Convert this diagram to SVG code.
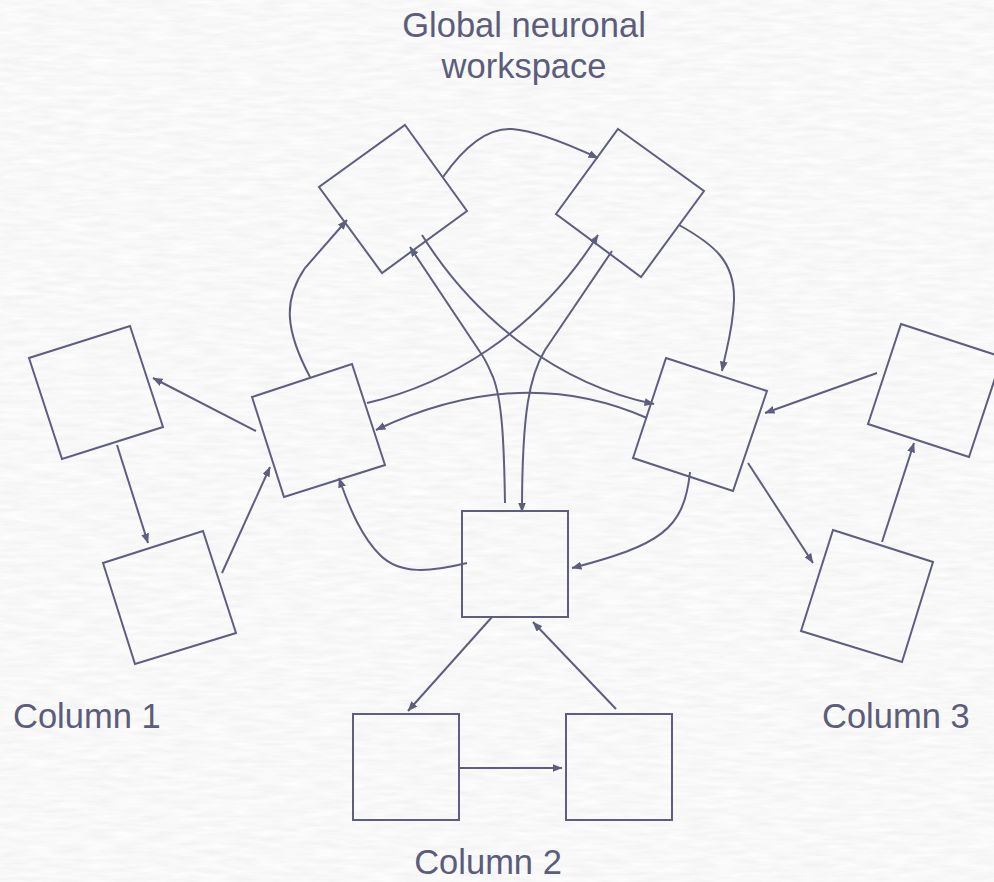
<svg xmlns="http://www.w3.org/2000/svg" width="994" height="882" viewBox="0 0 994 882">
  <defs>
    <filter id="paper" x="0" y="0" width="100%" height="100%" filterUnits="userSpaceOnUse">
      <feTurbulence type="fractalNoise" baseFrequency="0.035 0.22" numOctaves="3" seed="7" result="n"/>
      <feColorMatrix in="n" type="matrix" values="0.13 0 0 0 0.875  0.13 0 0 0 0.875  0.13 0 0 0 0.875  0 0 0 0 1"/>
    </filter>
    <marker id="arrow" viewBox="0 0 10 8" refX="9.5" refY="4" markerWidth="10" markerHeight="8" markerUnits="userSpaceOnUse" orient="auto">
      <path d="M0,0 L10,4 L0,8 Z" fill="#5e5e80"/>
    </marker>
    <style>
      .node { fill: none; stroke: #5e5e80; stroke-width: 2; }
      .link { fill: none; stroke: #5e5e80; stroke-width: 2; marker-end: url(#arrow); }
      .label { font-family: "Liberation Sans", Arial, sans-serif; font-size: 34.5px; fill: #5c5c7c; }
    </style>
  </defs>

  <!-- paper background -->
  <rect x="0" y="0" width="994" height="882" filter="url(#paper)"/>

  <!-- labels -->
  <text class="label" x="524" y="37" text-anchor="middle">Global neuronal</text>
  <text class="label" x="524" y="78" text-anchor="middle">workspace</text>
  <text class="label" x="13" y="728">Column 1</text>
  <text class="label" x="488" y="874" text-anchor="middle">Column 2</text>
  <text class="label" x="822" y="728">Column 3</text>

  <!-- workspace units -->
  <g id="ws-top-left"><polygon class="node" points="405,125 467,211 382,273 319,187"/></g>
  <g id="ws-top-right"><polygon class="node" points="618,129 704,191 641,277 556,214"/></g>
  <g id="ws-mid-left"><polygon class="node" points="352,364 385,465 284,497 252,397"/></g>
  <g id="ws-mid-right"><polygon class="node" points="666,358 767,391 733,491 633,458"/></g>
  <g id="ws-bottom"><rect class="node" x="462" y="511" width="106" height="106"/></g>

  <!-- column 1 -->
  <g id="col1-top"><polygon class="node" points="130,326 163,427 62,459 29,358"/></g>
  <g id="col1-bottom"><polygon class="node" points="203,531 236,633 135,664 103,563"/></g>

  <!-- column 2 -->
  <g id="col2-left"><rect class="node" x="353" y="714" width="106" height="106"/></g>
  <g id="col2-right"><rect class="node" x="566" y="714" width="106" height="106"/></g>

  <!-- column 3 -->
  <g id="col3-top"><polygon class="node" points="901,324 1002,357 969,457 868,424"/></g>
  <g id="col3-bottom"><polygon class="node" points="833,530 933,562 902,662 801,631"/></g>

  <!-- connectors -->
  <g id="connectors">
    <!-- column loops -->
    <path class="link" d="M256,431 L153,378"/>
    <path class="link" d="M117,445 L148,543"/>
    <path class="link" d="M222,573 L270,467"/>
    <path class="link" d="M877,373 L765,413"/>
    <path class="link" d="M748,463 L813,563"/>
    <path class="link" d="M882,542 L914,443"/>
    <path class="link" d="M492,617 L408,711"/>
    <path class="link" d="M616,709 L533,622"/>
    <path class="link" d="M459,768 L562,768"/>

    <!-- workspace links -->
    <path class="link" d="M443,177 Q478,127 512,129 Q540,131 598,158"/>
    <path class="link" d="M310,377 C285,330 283,300 305,268 L347,220"/>
    <path class="link" d="M679,225 C715,245 735,262 734,300 C733,330 726,350 722,371"/>
    <path class="link" d="M505,503 C504,440 502,400 493,377 C489,368 486,360 480,352 L410,247"/>
    <path class="link" d="M612,251 L545,350 C530,375 522,410 522,512"/>
    <path class="link" d="M367,403 C445,385 535,335 598,235"/>
    <path class="link" d="M422,235 C475,320 560,385 654,404"/>
    <path class="link" d="M647,418 Q520,362 376,430"/>
    <path class="link" d="M690,472 C684,530 660,545 572,568"/>
    <path class="link" d="M467,563 C430,572 400,575 380,555 C362,537 350,510 339,478"/>
  </g>
</svg>
